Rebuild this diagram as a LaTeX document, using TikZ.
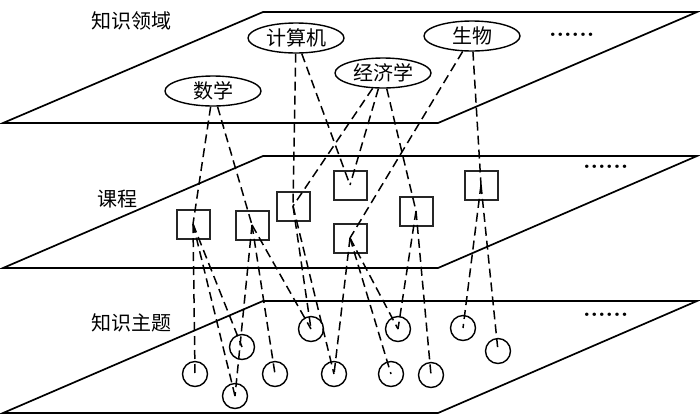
\documentclass[tikz,border=0pt]{standalone}
\usepackage{fontspec}
\newfontfamily\cjk{Noto Sans CJK SC}
\usetikzlibrary{shapes.geometric}
\begin{document}
\begin{tikzpicture}[x=1pt,y=-1pt,
  plane/.style={draw=black,line width=1.7pt,line join=miter},
  ell/.style={ellipse,draw=black,line width=1.4pt,fill=white,minimum width=96pt,minimum height=30pt,inner sep=0pt,font=\cjk\fontsize{20}{24}\selectfont},
  cbox/.style={rectangle,draw=black!85,line width=2pt,minimum width=33pt,minimum height=29pt,inner sep=0pt},
  tcirc/.style={circle,draw=black,line width=1.4pt,minimum size=25pt,inner sep=0pt},
  lbl/.style={font=\cjk\fontsize{20}{24}\selectfont,inner sep=0pt},
  dotsrow/.style={font=\bfseries\fontsize{24}{24}\selectfont,inner sep=0pt,anchor=base west},
  dl/.style={draw=black,line width=1.5pt,dash pattern=on 9pt off 5pt}
]
\useasboundingbox (0,0) rectangle (700,416);
% planes
\draw[plane] (3,123) -- (438,123) -- (697,12) -- (263,12) -- cycle;
\draw[plane] (3,268) -- (438,268) -- (697,156) -- (263,156) -- cycle;
\draw[plane] (3,413) -- (438,413) -- (697,301) -- (263,301) -- cycle;
% labels
\node[lbl] (l1) at (131,21) {知识领域};
\node[lbl] (l2) at (117,199) {课程};
\node[lbl] (l3) at (131,323) {知识主题};
\node[dotsrow] (d1) at (549,36) {......};
\node[dotsrow] (d2) at (583,168) {......};
\node[dotsrow] (d3) at (583,316) {......};
% domain ellipses
\node[ell] (sx) at (213,91) {数学};
\node[ell] (js) at (296,38) {计算机};
\node[ell] (jj) at (383,73) {经济学};
\node[ell] (sw) at (472,36) {生物};
% course boxes
\node[cbox] (A) at (193,224) {};
\node[cbox] (B) at (252,225) {};
\node[cbox] (C) at (293,206) {};
\node[cbox] (D) at (350,185) {};
\node[cbox] (E) at (350,238) {};
\node[cbox] (F) at (416,211) {};
\node[cbox] (G) at (481,185) {};
% topic circles
\node[tcirc] (c1) at (311,329) {};
\node[tcirc] (c2) at (398,329) {};
\node[tcirc] (c3) at (463,328) {};
\node[tcirc] (c4) at (242,347) {};
\node[tcirc] (c5) at (498,351) {};
\node[tcirc] (c6) at (195,374) {};
\node[tcirc] (c7) at (275,374) {};
\node[tcirc] (c8) at (334,374) {};
\node[tcirc] (c9) at (391,374) {};
\node[tcirc] (c10) at (431,375) {};
\node[tcirc] (c11) at (235,396) {};
% domain -> course
\draw[dl] (sx) -- (A.center);
\draw[dl] (sx) -- (B.center);
\draw[dl] (js) -- (C.center);
\draw[dl] (js) -- (D.center);
\draw[dl] (jj) -- (C.center);
\draw[dl] (jj) -- (D.center);
\draw[dl] (jj) -- (F.center);
\draw[dl] (sw) -- (E.center);
\draw[dl] (sw) -- (G.center);
% course -> topic
\draw[dl] (A.center) -- (c6.center);
\draw[dl] (A.center) -- (c11.center);
\draw[dl] (A.center) -- (c4.center);
\draw[dl] (B.center) -- (c11.center);
\draw[dl] (B.center) -- (c7.center);
\draw[dl] (B.center) -- (c1.center);
\draw[dl] (C.center) -- (c1.center);
\draw[dl] (C.center) -- (c8.center);
\draw[dl] (E.center) -- (c8.center);
\draw[dl] (E.center) -- (c9.center);
\draw[dl] (E.center) -- (c2.center);
\draw[dl] (F.center) -- (c2.center);
\draw[dl] (F.center) -- (c10.center);
\draw[dl] (G.center) -- (c3.center);
\draw[dl] (G.center) -- (c5.center);
\end{tikzpicture}
\end{document}
